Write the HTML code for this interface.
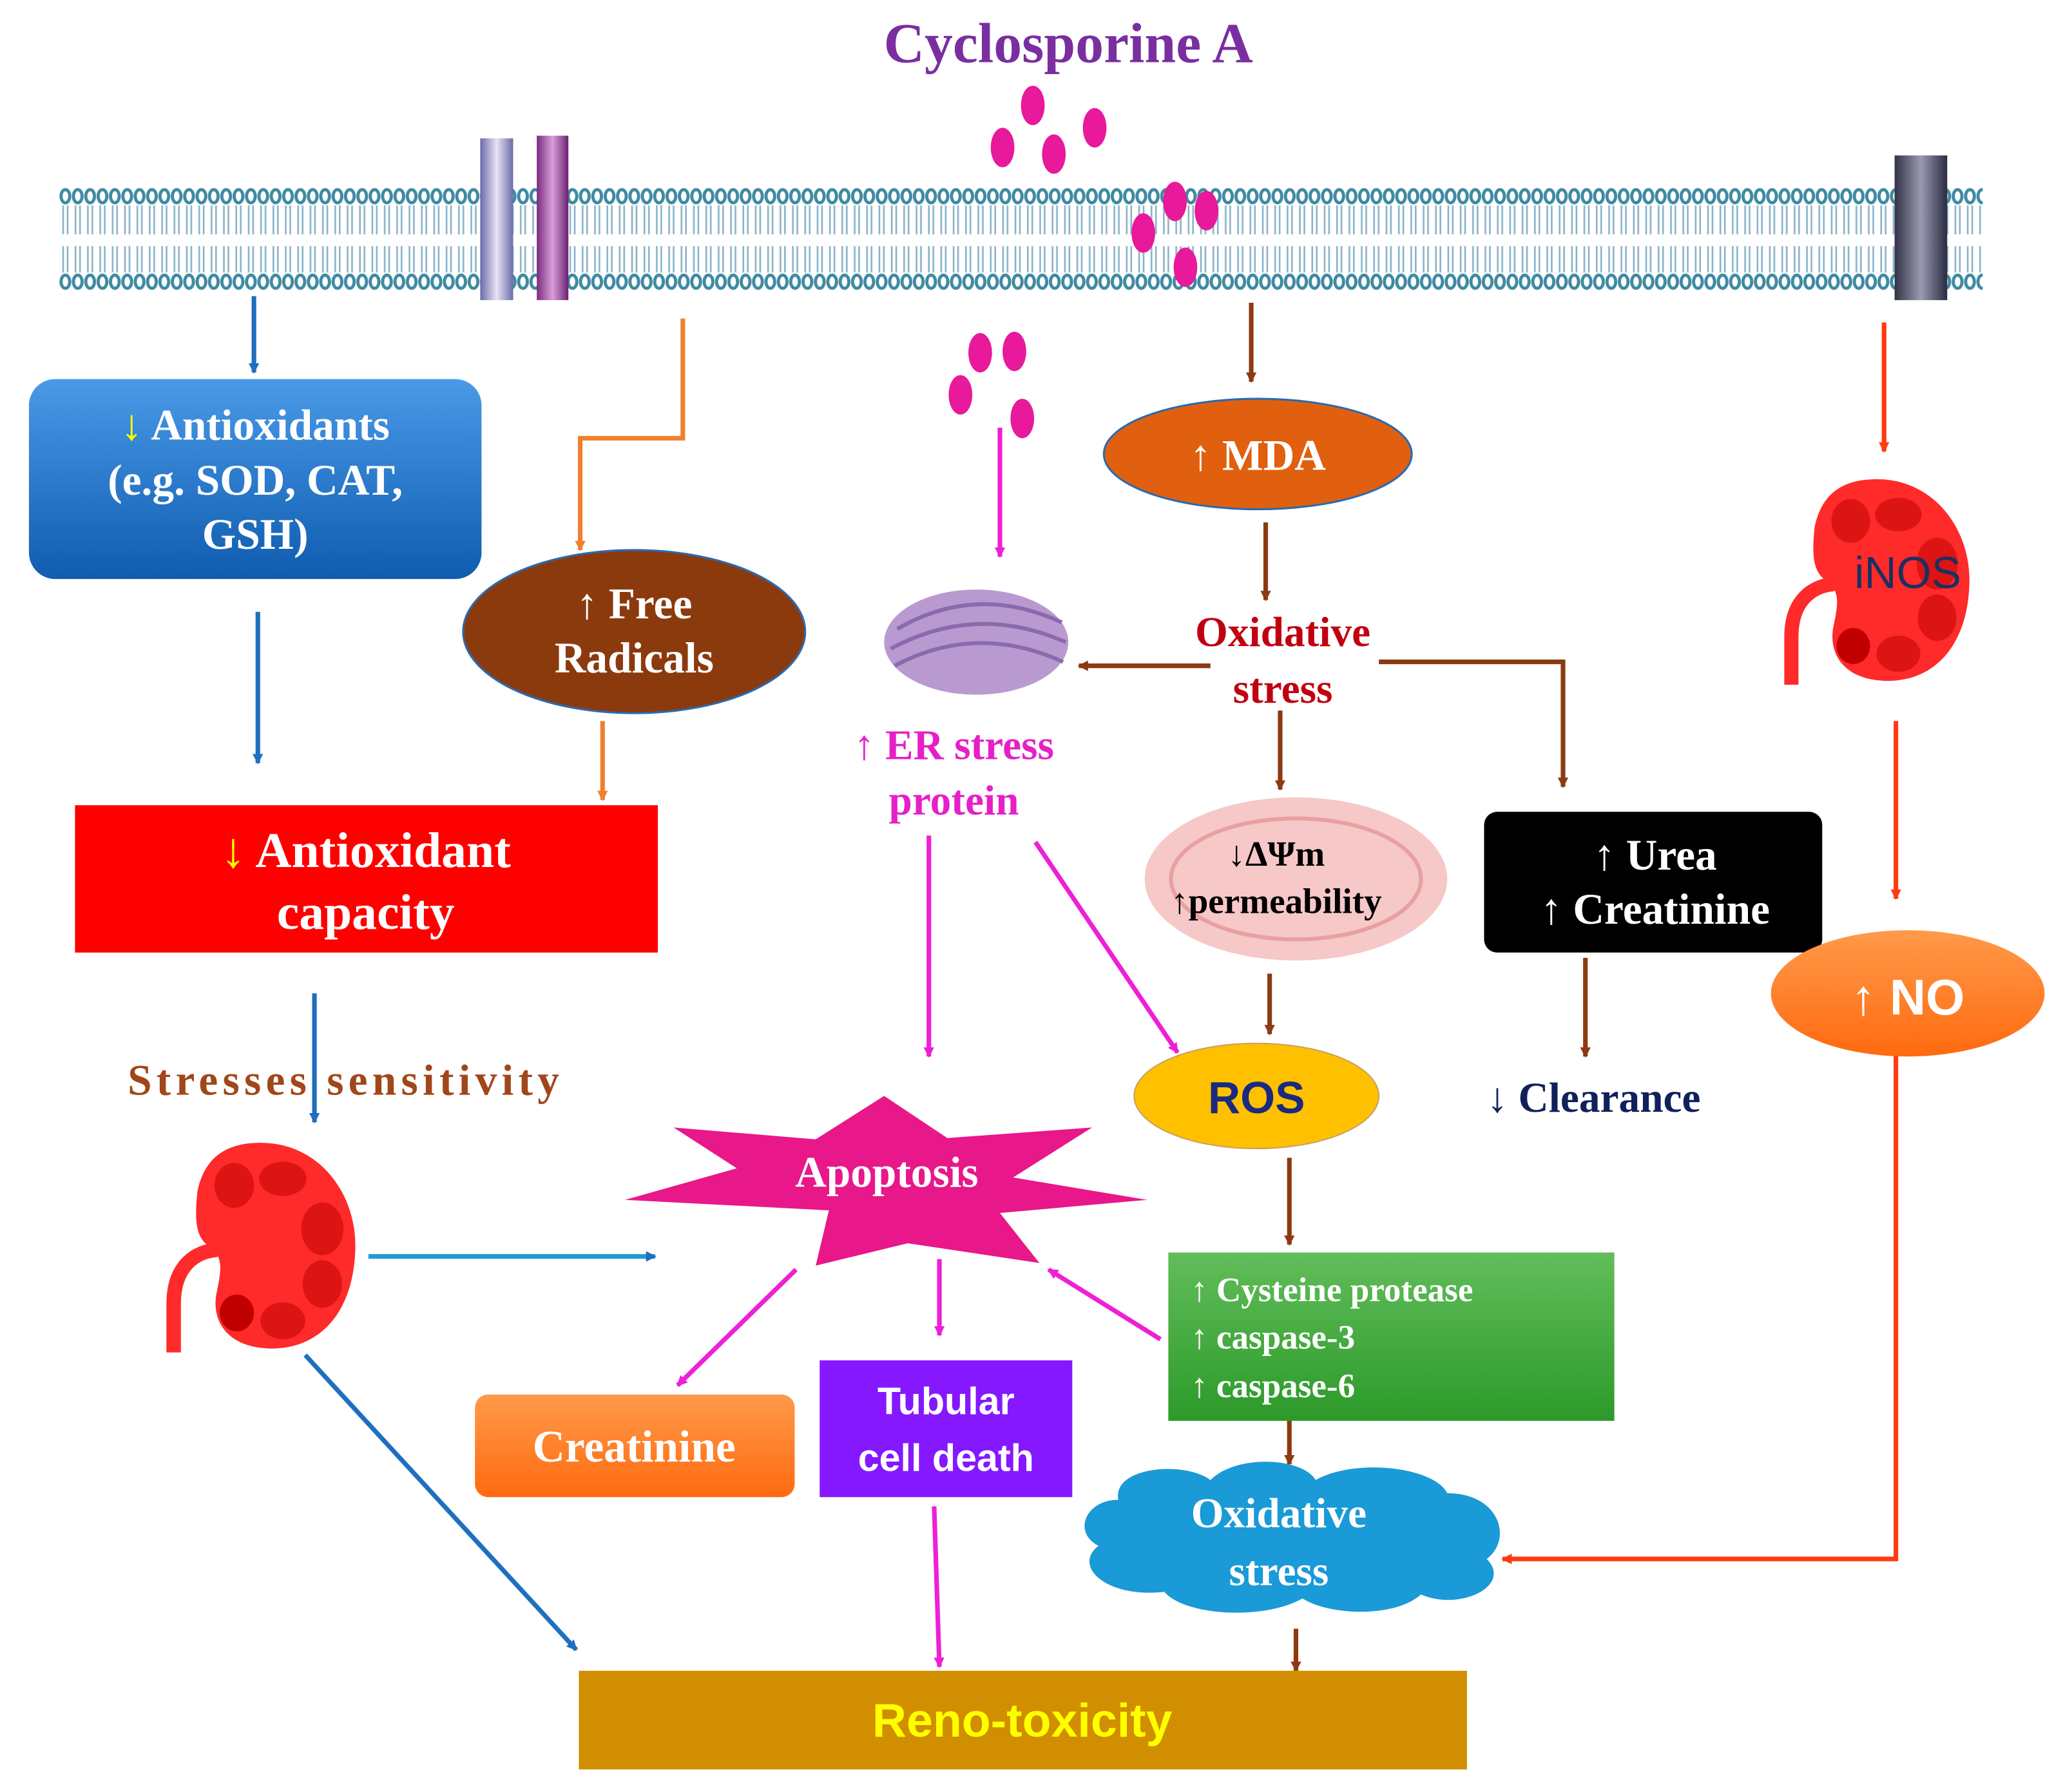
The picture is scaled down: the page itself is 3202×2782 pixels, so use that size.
<!DOCTYPE html>
<html><head><meta charset="utf-8">
<style>html,body{margin:0;padding:0;background:#fff}svg{display:block}
.s{font-family:"Liberation Serif",serif;font-weight:bold}
.a{font-family:"Liberation Sans",sans-serif;font-weight:bold}</style></head>
<body>
<svg width="3202" height="2782" viewBox="0 0 1568 1362" xmlns="http://www.w3.org/2000/svg">
<defs>
<marker id="mb" markerWidth="8" markerHeight="8" refX="7" refY="4" orient="auto" markerUnits="userSpaceOnUse"><path d="M0,0L8,4L0,8z" fill="#1f6fbf"/></marker>
<marker id="mo" markerWidth="8" markerHeight="8" refX="7" refY="4" orient="auto" markerUnits="userSpaceOnUse"><path d="M0,0L8,4L0,8z" fill="#f08030"/></marker>
<marker id="mr" markerWidth="8" markerHeight="8" refX="7" refY="4" orient="auto" markerUnits="userSpaceOnUse"><path d="M0,0L8,4L0,8z" fill="#8b3a12"/></marker>
<marker id="mm" markerWidth="8" markerHeight="8" refX="7" refY="4" orient="auto" markerUnits="userSpaceOnUse"><path d="M0,0L8,4L0,8z" fill="#ee1fd6"/></marker>
<marker id="mx" markerWidth="8" markerHeight="8" refX="7" refY="4" orient="auto" markerUnits="userSpaceOnUse"><path d="M0,0L8,4L0,8z" fill="#ff3a10"/></marker>
<pattern id="mem" x="45" y="140" width="9.4" height="86" patternUnits="userSpaceOnUse">
<ellipse cx="4.7" cy="9" rx="3.3" ry="5" fill="#fff" stroke="#3f8aa2" stroke-width="2.4"/>
<ellipse cx="4.7" cy="74" rx="3.3" ry="5" fill="#fff" stroke="#3f8aa2" stroke-width="2.4"/>
<path d="M3,16V38M6.4,16V38M3,47V67M6.4,47V67" stroke="#8ab4c8" stroke-width="1.3"/>
</pattern>
<linearGradient id="gb" x1="0" y1="0" x2="0" y2="1"><stop offset="0" stop-color="#4a9ae8"/><stop offset="1" stop-color="#0f5cb0"/></linearGradient>
<linearGradient id="gg" x1="0" y1="0" x2="0" y2="1"><stop offset="0" stop-color="#62bd5a"/><stop offset="1" stop-color="#2c9a2a"/></linearGradient>
<linearGradient id="go" x1="0" y1="0" x2="0" y2="1"><stop offset="0" stop-color="#ff9a4a"/><stop offset="1" stop-color="#ff6a10"/></linearGradient>
<linearGradient id="gc" x1="0" y1="0" x2="1" y2="0"><stop offset="0" stop-color="#6a6aa8"/><stop offset=".5" stop-color="#e8e4f4"/><stop offset="1" stop-color="#6a6aa8"/></linearGradient>
<linearGradient id="gc2" x1="0" y1="0" x2="1" y2="0"><stop offset="0" stop-color="#7a2a80"/><stop offset=".5" stop-color="#d8a0d8"/><stop offset="1" stop-color="#6a2070"/></linearGradient>
<linearGradient id="gd" x1="0" y1="0" x2="1" y2="0"><stop offset="0" stop-color="#333348"/><stop offset=".5" stop-color="#9a9ab0"/><stop offset="1" stop-color="#2a2a40"/></linearGradient>
<g id="kid">
<path d="M-20,-77C30,-82 62,-40 60,5C58,55 30,80 -5,79C-40,78 -50,55 -45,35C-42,20 -40,10 -50,2C-62,-5 -62,-20 -60,-40C-55,-65 -40,-75 -20,-77Z" fill="#ff2a2a"/>
<ellipse cx="-32" cy="-45" rx="15" ry="17" fill="#dc1414"/>
<ellipse cx="5" cy="-50" rx="18" ry="13" fill="#dc1414"/>
<ellipse cx="35" cy="-12" rx="16" ry="20" fill="#dc1414"/>
<ellipse cx="35" cy="30" rx="15" ry="18" fill="#dc1414"/>
<ellipse cx="5" cy="58" rx="17" ry="14" fill="#dc1414"/>
<ellipse cx="-30" cy="52" rx="13" ry="14" fill="#c00000"/>
<path d="M-45,4C-60,5 -78,15 -78,45V82" stroke="#ff2a2a" stroke-width="11" fill="none"/>
</g>
</defs>

<text x="812" y="47" text-anchor="middle" class="s" font-size="43" fill="#7a2ea0">Cyclosporine  A</text>

<rect x="45" y="140" width="1462" height="86" fill="url(#mem)"/>
<rect x="365" y="105" width="25" height="123" fill="url(#gc)"/>
<rect x="408" y="103" width="24" height="125" fill="url(#gc2)"/>
<rect x="1440" y="118" width="40" height="110" fill="url(#gd)"/>

<g fill="#e8199a">
<ellipse cx="785" cy="80" rx="9" ry="15"/><ellipse cx="762" cy="112" rx="9" ry="15"/><ellipse cx="801" cy="117" rx="9" ry="15"/><ellipse cx="832" cy="97" rx="9" ry="15"/>
<ellipse cx="893" cy="153" rx="9" ry="15"/><ellipse cx="917" cy="160" rx="9" ry="15"/><ellipse cx="869" cy="177" rx="9" ry="15"/><ellipse cx="901" cy="203" rx="9" ry="15"/>
<ellipse cx="745" cy="268" rx="9" ry="15"/><ellipse cx="771" cy="267" rx="9" ry="15"/><ellipse cx="730" cy="300" rx="9" ry="15"/><ellipse cx="777" cy="318" rx="9" ry="15"/>
</g>

<g stroke-width="3.5" fill="none">
<path d="M193,225V283" stroke="#1f6fbf" marker-end="url(#mb)"/>
<path d="M196,465V580" stroke="#1f6fbf" marker-end="url(#mb)"/>
<path d="M239,755V853" stroke="#1f6fbf" marker-end="url(#mb)"/>
<path d="M280,955H498" stroke="#1f9ad6" marker-end="url(#mb)"/>
<path d="M232,1030L438,1254" stroke="#1f6fbf" marker-end="url(#mb)"/>
<path d="M519,242V333H441V418" stroke="#f08030" marker-end="url(#mo)"/>
<path d="M458,548V608" stroke="#f08030" marker-end="url(#mo)"/>
<path d="M951,230V290" stroke="#8b3a12" marker-end="url(#mr)"/>
<path d="M962,397V456" stroke="#8b3a12" marker-end="url(#mr)"/>
<path d="M920,506H820" stroke="#8b3a12" marker-end="url(#mr)"/>
<path d="M1048,503H1188V598" stroke="#8b3a12" marker-end="url(#mr)"/>
<path d="M973,540V600" stroke="#8b3a12" marker-end="url(#mr)"/>
<path d="M965,740V786" stroke="#8b3a12" marker-end="url(#mr)"/>
<path d="M1205,728V803" stroke="#8b3a12" marker-end="url(#mr)"/>
<path d="M980,880V946" stroke="#8b3a12" marker-end="url(#mr)"/>
<path d="M980,1065V1113" stroke="#8b3a12" marker-end="url(#mr)"/>
<path d="M985,1238V1270" stroke="#8b3a12" marker-end="url(#mr)"/>
<path d="M760,325V423" stroke="#ee1fd6" marker-end="url(#mm)"/>
<path d="M706,635V803" stroke="#ee1fd6" marker-end="url(#mm)"/>
<path d="M787,640L895,800" stroke="#ee1fd6" marker-end="url(#mm)"/>
<path d="M605,965L515,1053" stroke="#ee1fd6" marker-end="url(#mm)"/>
<path d="M714,957V1015" stroke="#ee1fd6" marker-end="url(#mm)"/>
<path d="M882,1018L797,965" stroke="#ee1fd6" marker-end="url(#mm)"/>
<path d="M710,1145L714,1267" stroke="#ee1fd6" marker-end="url(#mm)"/>
<path d="M1432,245V343" stroke="#ff3a10" marker-end="url(#mx)"/>
<path d="M1441,548V683" stroke="#ff3a10" marker-end="url(#mx)"/>
<path d="M1441,800V1185H1142" stroke="#ff3a10" marker-end="url(#mx)"/>
</g>

<rect x="22" y="288" width="344" height="152" rx="20" fill="url(#gb)"/>
<text class="s" font-size="33" fill="#fff" text-anchor="middle"><tspan x="194" y="334"><tspan fill="#ffff00">↓</tspan> Antioxidants</tspan><tspan x="194" y="376">(e.g. SOD, CAT,</tspan><tspan x="194" y="417">GSH)</tspan></text>

<ellipse cx="482" cy="480" rx="130" ry="62" fill="#8b3a0e" stroke="#2a6ab0" stroke-width="1.5"/>
<text class="s" font-size="33" fill="#fff" text-anchor="middle"><tspan x="482" y="470">↑ Free</tspan><tspan x="482" y="511">Radicals</tspan></text>

<rect x="57" y="612" width="443" height="112" fill="#ff0000"/>
<text class="s" font-size="38" fill="#fff" text-anchor="middle"><tspan x="278" y="659"><tspan fill="#ffff00">↓</tspan> Antioxidant</tspan><tspan x="278" y="706">capacity</tspan></text>

<text x="97" y="832" class="s" font-size="33" fill="#a0471a" textLength="328" lengthAdjust="spacing">Stresses  sensitivity</text>

<use href="#kid" transform="translate(210,946)"/>
<use href="#kid" transform="translate(1438,440) scale(0.98)"/>
<text x="1450" y="447" font-family="Liberation Sans, sans-serif" font-size="34" fill="#1a3060" text-anchor="middle">iNOS</text>

<g transform="translate(742,488)">
<ellipse cx="0" cy="0" rx="70" ry="40" fill="#b89ad0"/>
<path d="M-60,-10Q0,-45 65,-15M-65,5Q0,-30 68,0M-62,18Q0,-15 66,15" stroke="#8a6aaa" stroke-width="3" fill="none"/>
</g>
<text class="s" font-size="32" fill="#e620c8" text-anchor="middle"><tspan x="725" y="577">↑ ER stress</tspan><tspan x="725" y="619">protein</tspan></text>

<ellipse cx="956" cy="345" rx="117" ry="42" fill="#e06010" stroke="#2a6ab0" stroke-width="1.5"/>
<text x="956" y="357" class="s" font-size="33" fill="#fff" text-anchor="middle">↑ MDA</text>

<text class="s" font-size="32" fill="#c00010" text-anchor="middle"><tspan x="975" y="491">Oxidative</tspan><tspan x="975" y="534">stress</tspan></text>

<ellipse cx="985" cy="668" rx="115" ry="62" fill="#f6c8c8"/>
<ellipse cx="985" cy="668" rx="95" ry="46" fill="none" stroke="#e8a0a0" stroke-width="3"/>
<text class="s" font-size="27" fill="#000" text-anchor="middle"><tspan x="970" y="658">↓ΔΨm</tspan><tspan x="970" y="694">↑permeability</tspan></text>

<ellipse cx="955" cy="833" rx="93" ry="40" fill="#ffc000" stroke="#c8a060" stroke-width="1"/>
<text x="955" y="846" class="a" font-size="34" fill="#1a2a80" text-anchor="middle">ROS</text>

<rect x="1128" y="617" width="257" height="107" rx="10" fill="#000"/>
<text class="s" font-size="33" fill="#fff" text-anchor="middle"><tspan x="1258" y="661">↑ Urea</tspan><tspan x="1258" y="702">↑ Creatinine</tspan></text>

<text x="1130" y="845" class="s" font-size="32" fill="#10205a">↓ Clearance</text>

<ellipse cx="1450" cy="755" rx="104" ry="48" fill="url(#go)"/>
<text x="1450" y="771" class="a" font-size="38" fill="#fff" text-anchor="middle">↑ NO</text>

<polygon points="672,833 720,865 830,857 770,895 872,912 760,922 790,960 690,945 620,962 630,920 475,912 560,888 512,857 620,866" fill="#e8178a"/>
<text x="674" y="902" class="s" font-size="33" fill="#fff" text-anchor="middle">Apoptosis</text>

<rect x="888" y="952" width="339" height="128" fill="url(#gg)"/>
<text class="s" font-size="26" fill="#fff"><tspan x="905" y="989">↑ Cysteine protease</tspan><tspan x="905" y="1025">↑ caspase-3</tspan><tspan x="905" y="1062">↑ caspase-6</tspan></text>

<path d="M850,1140C845,1115 900,1110 920,1125C940,1105 990,1108 1000,1125C1030,1108 1090,1115 1100,1135C1140,1135 1150,1170 1130,1185C1150,1205 1110,1225 1080,1212C1060,1230 1010,1228 990,1215C960,1232 900,1228 885,1210C840,1215 815,1190 835,1175C815,1165 825,1140 850,1140Z" fill="#1a9ad6"/>
<text class="s" font-size="32" fill="#fff" text-anchor="middle"><tspan x="972" y="1161">Oxidative</tspan><tspan x="972" y="1205">stress</tspan></text>

<rect x="361" y="1060" width="243" height="78" rx="10" fill="url(#go)"/>
<text x="482" y="1111" class="s" font-size="34" fill="#fff" text-anchor="middle">Creatinine</text>

<rect x="623" y="1034" width="192" height="104" fill="#8518ff"/>
<text class="a" font-size="29" fill="#fff" text-anchor="middle"><tspan x="719" y="1075">Tubular</tspan><tspan x="719" y="1118">cell death</tspan></text>

<rect x="440" y="1270" width="675" height="75" fill="#d08e00"/>
<text x="777" y="1320" class="a" font-size="36" fill="#ffff00" text-anchor="middle">Reno-toxicity</text>
</svg>
</body></html>
